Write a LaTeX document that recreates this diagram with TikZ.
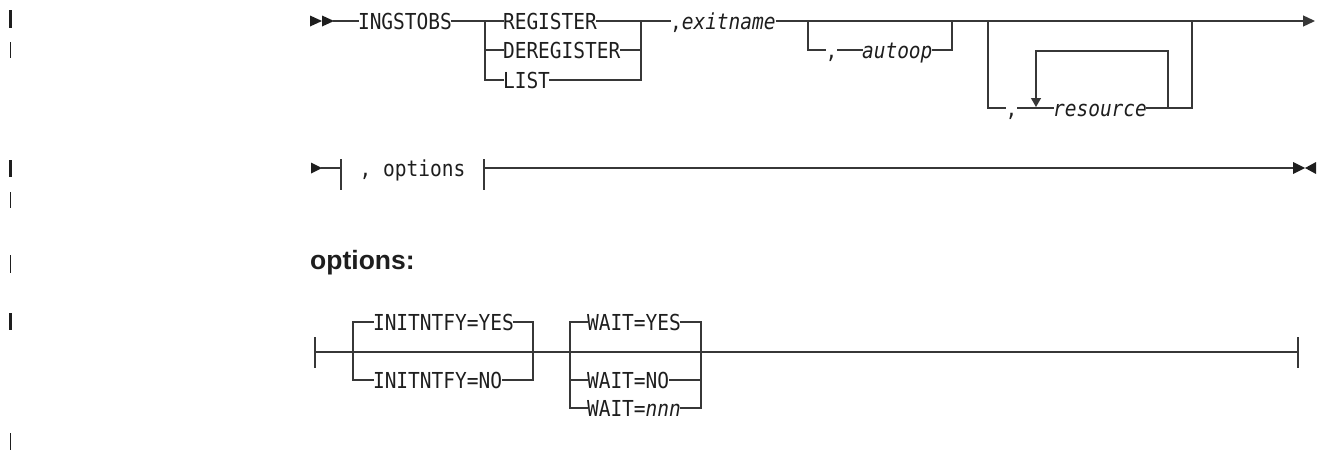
\documentclass[tikz,border=0pt]{standalone}
\usepackage{fontspec}
\newfontfamily\monof[FakeStretch=0.887]{DejaVu Sans Mono}
\newfontfamily\headf{Liberation Sans}
\usetikzlibrary{arrows.meta}
\definecolor{linec}{RGB}{55,55,55}
\definecolor{txtc}{RGB}{30,30,30}
\begin{document}
\begin{tikzpicture}[x=1pt,y=1pt,
  ln/.style={draw=linec,line width=1.3pt,line cap=rect},
  thk/.style={draw=linec,line width=2.4pt},
  lbl/.style={font=\monof\fontsize{22}{26}\selectfont,text=txtc,inner sep=0pt,outer sep=0pt,
              text height=16pt,text depth=0pt,anchor=west},
  tipfill/.style={fill=txtc},
  chgthick/.style={draw=txtc,line width=3.5pt},
  chgthin/.style={draw=txtc,line width=1.2pt},
  tri/.style={-{Triangle[length=12pt,width=11pt]}}]
\useasboundingbox (0,0) rectangle (1320,-453);

% change bars
\draw[chgthick] (10.5,-10) -- (10.5,-28);
\draw[chgthin]  (10.5,-42) -- (10.5,-58);
\draw[chgthick] (10.5,-160) -- (10.5,-177);
\draw[chgthin]  (10.5,-192) -- (10.5,-208);
\draw[chgthin]  (10.5,-255) -- (10.5,-273);
\draw[chgthick] (10.5,-313) -- (10.5,-330);
\draw[chgthin]  (10.5,-433) -- (10.5,-450);

% ---------- row 1 ----------
\fill[tipfill] (310,-15.5) -- (322,-21) -- (310,-26.5) -- cycle;
\fill[tipfill] (322,-15.5) -- (334,-21) -- (322,-26.5) -- cycle;
\coordinate (s1) at (334,-21);
\node[lbl] (ing) at (358,-21) {INGSTOBS};
\coordinate (j1) at (485,-21);
\node[lbl] (reg) at (503,-21) {REGISTER};
\node[lbl] (dereg) at (503,-50) {DEREGISTER};
\node[lbl] (list) at (503,-80) {LIST};
\coordinate (j2) at (641,-21);
\node[lbl] (exit) at (670,-21) {,\textit{exitname}};
\coordinate (j3) at (808,-21);
\node[lbl] (c1) at (825.5,-50) {,};
\node[lbl] (auto) at (862,-50) {\textit{autoop}};
\coordinate (j4) at (952,-21);
\coordinate (j5) at (988,-21);
\node[lbl] (c2) at (1005.5,-108) {,};
\node[lbl] (res) at (1053,-108) {\textit{resource}};
\coordinate (j6) at (1192,-21);
\coordinate (l1) at (1168,-108);
\coordinate (l2) at (1036,-51);
\coordinate (lt) at (1036,-107);
\coordinate (endA) at (1315,-21);

\draw[ln] (s1) -- (ing.west);
\draw[ln] (ing.east) -- (reg.west);
\draw[ln] (j1) |- (dereg.west);
\draw[ln] (j1) |- (list.west);
\draw[ln] (reg.east) -- (exit.west);
\draw[ln] (dereg.east) -| (j2);
\draw[ln] (list.east) -| (j2);
\draw[ln,line cap=butt,tri] (exit.east) -- (endA);
\draw[ln] (j3) |- (c1.west);
\draw[ln] (c1.east) -- (auto.west);
\draw[ln] (auto.east) -| (j4);
\draw[ln] (j5) |- (c2.west);
\draw[ln] (c2.east) -- (res.west);
\draw[ln] (res.east) -| (j6);
\draw[ln] (l1) |- (l2);
\draw[ln,line cap=butt,-{Triangle[length=9pt,width=10pt]}] (l2) -- (lt);

% ---------- row 2 ----------
\fill[tipfill] (311,-162.5) -- (322,-168) -- (311,-173.5) -- cycle;
\coordinate (s2) at (322,-168);
\coordinate (b1) at (341,-168);
\coordinate (b1t) at (341,-160);
\coordinate (b1b) at (341,-189);
\node[lbl,anchor=center] (optref) at (412.5,-168) {, options};
\coordinate (b2) at (484,-168);
\coordinate (b2t) at (484,-160);
\coordinate (b2b) at (484,-189);
\coordinate (e2) at (1293,-168);
\draw[ln] (s2) -- (b1);
\draw[ln] (b1t) -- (b1b);
\draw[ln] (b2t) -- (b2b);
\draw[ln] (b2) -- (e2);
\draw[thk] (b2) -- (513,-168);
\fill[tipfill] (1293,-162) -- (1305,-168) -- (1293,-174) -- cycle;
\fill[tipfill] (1316,-162) -- (1305,-168) -- (1316,-174) -- cycle;

% ---------- heading ----------
\node[font=\headf\bfseries\fontsize{26.5}{31}\selectfont,text=txtc,anchor=base west,inner sep=0pt] (opthead) at (310,-269) {options:};

% ---------- row 3 ----------
\coordinate (m0) at (315,-352);
\coordinate (m0t) at (315,-338);
\coordinate (m0b) at (315,-367);
\coordinate (m1) at (1298,-352);
\coordinate (m1t) at (1298,-338);
\coordinate (m1b) at (1298,-367);
\draw[ln] (m0t) -- (m0b);
\draw[ln] (m1t) -- (m1b);
\draw[ln] (m0) -- (m1);
\draw[thk] (323,-352) -- (330,-352);

\coordinate (k1) at (353,-352);
\node[lbl] (iy) at (373,-322) {INITNTFY=YES};
\node[lbl] (in) at (373,-380) {INITNTFY=NO};
\coordinate (k2) at (533,-352);
\draw[ln] (k1) |- (iy.west);
\draw[ln] (k1) |- (in.west);
\draw[ln] (iy.east) -| (k2);
\draw[ln] (in.east) -| (k2);

\coordinate (k3) at (570,-352);
\node[lbl] (wy) at (587,-322) {WAIT=YES};
\node[lbl] (wn) at (587,-380) {WAIT=NO};
\node[lbl] (wx) at (587,-408) {WAIT=\textit{nnn}};
\coordinate (k4) at (701,-352);
\draw[ln] (k3) |- (wy.west);
\draw[ln] (k3) |- (wn.west);
\draw[ln] (k3) |- (wx.west);
\draw[ln] (wy.east) -| (k4);
\draw[ln] (wn.east) -| (k4);
\draw[ln] (wx.east) -| (k4);
\draw[thk] (705,-352) -- (729,-352);
\end{tikzpicture}
\end{document}
